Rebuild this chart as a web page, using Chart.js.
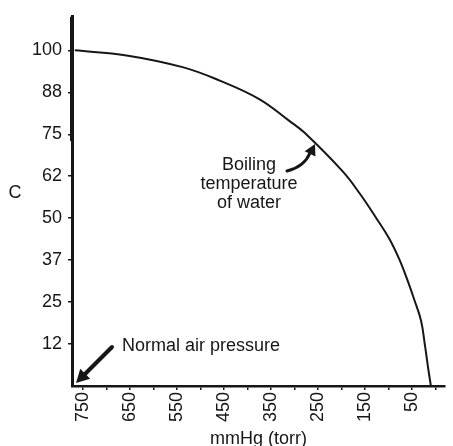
<!DOCTYPE html>
<html>
<head>
<meta charset="utf-8">
<script src="https://cdn.jsdelivr.net/npm/chart.js@4.4.1/dist/chart.umd.min.js"></script>
<style>
  html, body { margin: 0; padding: 0; background: #fff; }
</style>
</head>
<body>
<canvas id="boilChart" width="453" height="446"></canvas>
<script>
// boiling point of water (C) against air pressure (mmHg)
var pressure = [767, 657, 538, 459, 375, 311, 279, 198, 162, 126, 99, 78, 61, 46, 31, 22, 16, 10];
var boilTemp = [100, 98.5, 95, 91, 85.5, 79, 75.5, 64, 57.5, 50, 44, 38, 32, 26, 19.5, 11.5, 5.5, 0];

// axis ticks (the y labels are printed as whole numbers)
var yTicks = [12.5, 25, 37.5, 50, 62.5, 75, 87.5, 100];
var yLabels = ['12', '25', '37', '50', '62', '75', '88', '100'];
var xTicks = [750, 700, 650, 600, 550, 500, 450, 400, 350, 300, 250, 200, 150, 100, 50, 0];
var xLabeled = [750, 650, 550, 450, 350, 250, 150, 50];

var ink = '#161616';
var fontFamily = '"Liberation Sans", Arial, sans-serif';

var points = pressure.map(function(p, i) {
    return {x: p, y: boilTemp[i]};
});

function arrowHead(ctx, tipX, tipY, fromX, fromY, len, half) {
    var a = Math.atan2(tipY - fromY, tipX - fromX);
    ctx.beginPath();
    ctx.moveTo(tipX, tipY);
    ctx.lineTo(tipX - len * Math.cos(a) + half * Math.sin(a), tipY - len * Math.sin(a) - half * Math.cos(a));
    ctx.lineTo(tipX - len * Math.cos(a) - half * Math.sin(a), tipY - len * Math.sin(a) + half * Math.cos(a));
    ctx.closePath();
    ctx.fill();
}

// notes, arrows and the unrotated "C"
var notes = {
    id: 'notes',
    afterDraw: function(chart) {
        var ctx = chart.ctx;
        ctx.save();
        ctx.fillStyle = ink;
        ctx.strokeStyle = ink;
        ctx.font = '18px ' + fontFamily;
        ctx.textBaseline = 'alphabetic';

        ctx.textAlign = 'center';
        ctx.fillText('C', 15, 198);

        ctx.fillText('Boiling', 249, 170);
        ctx.fillText('temperature', 249, 189);
        ctx.fillText('of water', 249, 208);

        ctx.textAlign = 'left';
        ctx.fillText('Normal air pressure', 122, 351);

        // curved arrow toward the curve
        ctx.lineWidth = 3;
        ctx.lineCap = 'round';
        ctx.beginPath();
        ctx.moveTo(287, 171);
        ctx.quadraticCurveTo(304, 167, 310, 153);
        ctx.stroke();
        arrowHead(ctx, 315, 144, 307, 160, 11, 6);

        // straight arrow into the corner
        ctx.lineWidth = 4;
        ctx.beginPath();
        ctx.moveTo(112, 347);
        ctx.lineTo(84, 375);
        ctx.stroke();
        arrowHead(ctx, 76, 383, 112, 347, 13, 7);

        // heavier upper part of the y axis
        var area = chart.chartArea;
        ctx.lineWidth = 4;
        ctx.lineCap = 'butt';
        ctx.beginPath();
        ctx.moveTo(area.left, area.top);
        ctx.lineTo(area.left, chart.scales.y.getPixelForValue(73));
        ctx.stroke();
        ctx.restore();
    }
};

new Chart(document.getElementById('boilChart'), {
    type: 'line',
    data: {
        datasets: [{
            data: points,
            borderColor: ink,
            borderWidth: 2,
            pointRadius: 0,
            fill: false,
            tension: 0.4
        }]
    },
    options: {
        responsive: false,
        animation: false,
        devicePixelRatio: 1,
        layout: {padding: {top: 13, right: 8, left: 0, bottom: 0}},
        plugins: {
            legend: {display: false},
            tooltip: {enabled: false}
        },
        scales: {
            x: {
                type: 'linear',
                reverse: true,
                min: -20,
                max: 773,
                afterBuildTicks: function(scale) {
                    scale.ticks = xTicks.map(function(v) { return {value: v}; });
                },
                afterFit: function(scale) {
                    scale.height = 60;
                    scale.paddingLeft = 0;
                    scale.paddingRight = 0;
                },
                border: {display: true, color: ink, width: 2.5},
                grid: {drawOnChartArea: false, drawTicks: true, tickLength: 4, color: ink, lineWidth: 1.5},
                ticks: {
                    autoSkip: false,
                    minRotation: 90,
                    maxRotation: 90,
                    padding: 2,
                    color: ink,
                    font: {family: fontFamily, size: 18},
                    callback: function(v) {
                        return xLabeled.indexOf(v) >= 0 ? String(v) : '';
                    }
                },
                title: {
                    display: true,
                    text: 'mmHg (torr)',
                    color: ink,
                    padding: 0,
                    font: {family: fontFamily, size: 18, lineHeight: 0.8}
                }
            },
            y: {
                type: 'linear',
                min: 0,
                max: 110,
                afterBuildTicks: function(scale) {
                    scale.ticks = yTicks.map(function(v) { return {value: v}; });
                },
                afterFit: function(scale) {
                    scale.width = 72;
                },
                border: {display: true, color: ink, width: 3},
                grid: {drawOnChartArea: false, drawTicks: true, tickLength: 4, color: ink, lineWidth: 1.5},
                ticks: {
                    padding: 6,
                    color: ink,
                    font: {family: fontFamily, size: 18},
                    callback: function(v) {
                        var i = yTicks.indexOf(v);
                        return i >= 0 ? yLabels[i] : '';
                    }
                }
            }
        }
    },
    plugins: [notes]
});
</script>
</body>
</html>
